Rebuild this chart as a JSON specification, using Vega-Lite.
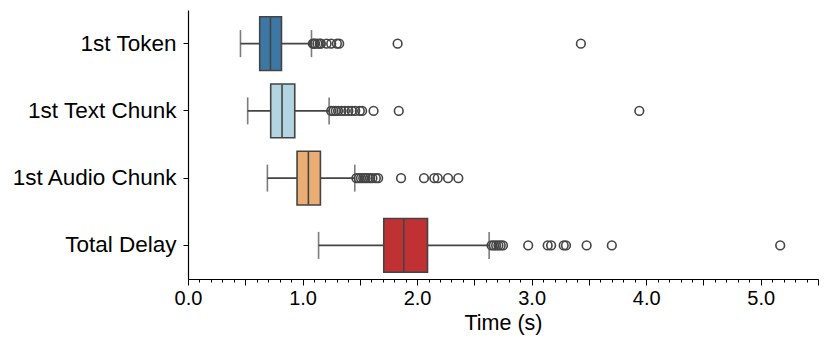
{
  "$schema": "https://vega.github.io/schema/vega-lite/v6.json",
  "autosize": "none",
  "width": 630,
  "height": 269,
  "padding": {"left": 188, "top": 10, "right": 12, "bottom": 71},
  "background": "white",
  "config": {
    "view": {"stroke": null},
    "font": "Liberation Sans",
    "axis": {"grid": false, "domainColor": "black", "domainWidth": 1.2, "tickColor": "black", "labelColor": "black", "titleColor": "black", "labelFont": "Liberation Sans", "titleFont": "Liberation Sans", "titleFontWeight": "normal"},
    "axisX": {"labelOverlap": false, "labelFlush": false, "labelBound": false}
  },
  "datasets": {
    "boxes": [
      {"stage": "1st Token", "lower": 0.458, "q1": 0.626, "median": 0.72, "q3": 0.816, "upper": 1.078},
      {"stage": "1st Text Chunk", "lower": 0.521, "q1": 0.722, "median": 0.821, "q3": 0.932, "upper": 1.232},
      {"stage": "1st Audio Chunk", "lower": 0.693, "q1": 0.952, "median": 1.051, "q3": 1.156, "upper": 1.456},
      {"stage": "Total Delay", "lower": 1.14, "q1": 1.709, "median": 1.884, "q3": 2.091, "upper": 2.629}
    ],
    "outliers": [
      {"stage": "1st Token", "time": 1.09}, {"stage": "1st Token", "time": 1.10}, {"stage": "1st Token", "time": 1.11},
      {"stage": "1st Token", "time": 1.13}, {"stage": "1st Token", "time": 1.15}, {"stage": "1st Token", "time": 1.16},
      {"stage": "1st Token", "time": 1.21}, {"stage": "1st Token", "time": 1.25}, {"stage": "1st Token", "time": 1.30},
      {"stage": "1st Token", "time": 1.32}, {"stage": "1st Token", "time": 1.83}, {"stage": "1st Token", "time": 3.43},
      {"stage": "1st Text Chunk", "time": 1.25}, {"stage": "1st Text Chunk", "time": 1.27}, {"stage": "1st Text Chunk", "time": 1.29},
      {"stage": "1st Text Chunk", "time": 1.31}, {"stage": "1st Text Chunk", "time": 1.34}, {"stage": "1st Text Chunk", "time": 1.37},
      {"stage": "1st Text Chunk", "time": 1.40}, {"stage": "1st Text Chunk", "time": 1.43}, {"stage": "1st Text Chunk", "time": 1.46},
      {"stage": "1st Text Chunk", "time": 1.50}, {"stage": "1st Text Chunk", "time": 1.52}, {"stage": "1st Text Chunk", "time": 1.62},
      {"stage": "1st Text Chunk", "time": 1.84}, {"stage": "1st Text Chunk", "time": 3.94},
      {"stage": "1st Audio Chunk", "time": 1.47}, {"stage": "1st Audio Chunk", "time": 1.49}, {"stage": "1st Audio Chunk", "time": 1.51},
      {"stage": "1st Audio Chunk", "time": 1.53}, {"stage": "1st Audio Chunk", "time": 1.55}, {"stage": "1st Audio Chunk", "time": 1.57},
      {"stage": "1st Audio Chunk", "time": 1.59}, {"stage": "1st Audio Chunk", "time": 1.61}, {"stage": "1st Audio Chunk", "time": 1.64},
      {"stage": "1st Audio Chunk", "time": 1.66}, {"stage": "1st Audio Chunk", "time": 1.86}, {"stage": "1st Audio Chunk", "time": 2.06},
      {"stage": "1st Audio Chunk", "time": 2.15}, {"stage": "1st Audio Chunk", "time": 2.18}, {"stage": "1st Audio Chunk", "time": 2.27},
      {"stage": "1st Audio Chunk", "time": 2.36},
      {"stage": "Total Delay", "time": 2.65}, {"stage": "Total Delay", "time": 2.67}, {"stage": "Total Delay", "time": 2.69},
      {"stage": "Total Delay", "time": 2.71}, {"stage": "Total Delay", "time": 2.73}, {"stage": "Total Delay", "time": 2.75},
      {"stage": "Total Delay", "time": 2.97}, {"stage": "Total Delay", "time": 3.14}, {"stage": "Total Delay", "time": 3.17},
      {"stage": "Total Delay", "time": 3.28}, {"stage": "Total Delay", "time": 3.30}, {"stage": "Total Delay", "time": 3.48},
      {"stage": "Total Delay", "time": 3.70}, {"stage": "Total Delay", "time": 5.17}
    ]
  },
  "layer": [
    {
      "data": {"name": "boxes"},
      "mark": {"type": "rule", "color": "#444444", "strokeWidth": 1.6},
      "encoding": {
        "y": {"field": "stage", "type": "nominal", "sort": ["1st Token", "1st Text Chunk", "1st Audio Chunk", "Total Delay"],
              "scale": {"paddingInner": 0, "paddingOuter": 0},
              "axis": {"title": null, "labelFontSize": 22.5, "tickSize": 5, "tickWidth": 1, "labelPadding": 7}},
        "x": {"field": "lower", "type": "quantitative",
              "scale": {"domain": [0, 5.5], "nice": false, "zero": false},
              "axis": {
                "title": "Time (s)", "titleFontSize": 21.5, "titlePadding": 4, "labelFontSize": 20, "labelPadding": 3,
                "labelFlush": false, "labelOverlap": false, "tickCount": 200,
                "values": [0,0.1,0.2,0.3,0.4,0.5,0.6,0.7,0.8,0.9,1,1.1,1.2,1.3,1.4,1.5,1.6,1.7,1.8,1.9,2,2.1,2.2,2.3,2.4,2.5,2.6,2.7,2.8,2.9,3,3.1,3.2,3.3,3.4,3.5,3.6,3.7,3.8,3.9,4,4.1,4.2,4.3,4.4,4.5,4.6,4.7,4.8,4.9,5,5.1,5.2,5.3,5.4,5.5],
                "labelExpr": "abs(datum.value - round(datum.value)) < 0.001 ? format(datum.value, '.1f') : ''",
                "tickSize": {"condition": {"test": "abs(datum.value*2 - round(datum.value*2)) < 0.001", "value": 6}, "value": 3},
                "tickWidth": 1
              }},
        "x2": {"field": "upper"}
      }
    },
    {
      "data": {"name": "boxes"},
      "mark": {"type": "tick", "color": "#444444", "thickness": 1.6, "size": 27},
      "encoding": {
        "y": {"field": "stage", "type": "nominal", "sort": ["1st Token", "1st Text Chunk", "1st Audio Chunk", "Total Delay"]},
        "x": {"field": "lower", "type": "quantitative"}
      }
    },
    {
      "data": {"name": "boxes"},
      "mark": {"type": "tick", "color": "#444444", "thickness": 1.6, "size": 27},
      "encoding": {
        "y": {"field": "stage", "type": "nominal", "sort": ["1st Token", "1st Text Chunk", "1st Audio Chunk", "Total Delay"]},
        "x": {"field": "upper", "type": "quantitative"}
      }
    },
    {
      "data": {"name": "boxes"},
      "mark": {"type": "bar", "height": {"band": 0.8}, "stroke": "#444444", "strokeWidth": 1.6, "opacity": 1},
      "encoding": {
        "y": {"field": "stage", "type": "nominal", "sort": ["1st Token", "1st Text Chunk", "1st Audio Chunk", "Total Delay"]},
        "x": {"field": "q1", "type": "quantitative"},
        "x2": {"field": "q3"},
        "color": {"field": "stage", "type": "nominal", "legend": null,
                  "scale": {"domain": ["1st Token", "1st Text Chunk", "1st Audio Chunk", "Total Delay"],
                            "range": ["#3d78a5", "#b3d5e1", "#eaae75", "#bf3133"]}}
      }
    },
    {
      "data": {"name": "boxes"},
      "mark": {"type": "tick", "color": "#444444", "thickness": 1.6, "size": 53, "opacity": 1},
      "encoding": {
        "y": {"field": "stage", "type": "nominal", "sort": ["1st Token", "1st Text Chunk", "1st Audio Chunk", "Total Delay"]},
        "x": {"field": "median", "type": "quantitative"}
      }
    },
    {
      "data": {"name": "outliers"},
      "mark": {"type": "point", "shape": "circle", "filled": false, "color": "#444444", "strokeWidth": 1.6, "size": 75, "opacity": 1},
      "encoding": {
        "y": {"field": "stage", "type": "nominal", "sort": ["1st Token", "1st Text Chunk", "1st Audio Chunk", "Total Delay"]},
        "x": {"field": "time", "type": "quantitative"}
      }
    }
  ]
}
